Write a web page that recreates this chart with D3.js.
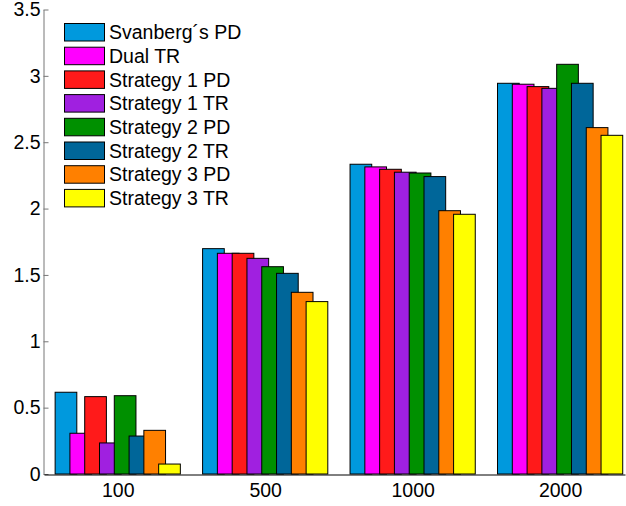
<!DOCTYPE html>
<html><head><meta charset="utf-8">
<script src="https://cdn.jsdelivr.net/npm/d3@7"></script>
<style>body{margin:0;background:#fff}svg{display:block}text{font-family:"Liberation Sans",Arial,sans-serif}</style>
</head><body><svg id="c" width="626" height="506"></svg>
<script>
const categories = ["100","500","1000","2000"];
const seriesNames = ["Svanberg´s PD","Dual TR","Strategy 1 PD","Strategy 1 TR","Strategy 2 PD","Strategy 2 TR","Strategy 3 PD","Strategy 3 TR"];
const seriesColors = ["#0099dd","#ff00ff","#ff1a1a","#a020e0","#009000","#006699","#ff8000","#ffff00"];
const svanbergPD = [0.616,1.698,2.334,2.944];
const dualTR     = [0.307,1.663,2.314,2.937];
const s1PD       = [0.583,1.663,2.296,2.919];
const s1TR       = [0.234,1.625,2.274,2.906];
const s2PD       = [0.590,1.562,2.268,3.087];
const s2TR       = [0.286,1.512,2.241,2.944];
const s3PD       = [0.329,1.369,1.984,2.610];
const s3TR       = [0.075,1.299,1.957,2.552];
const yTicks = [0,0.5,1,1.5,2,2.5,3,3.5];

const series = [svanbergPD,dualTR,s1PD,s1TR,s2PD,s2TR,s3PD,s3TR];
const svg = d3.select("#c");
const x = d3.scaleLinear().domain([0.5,4.44]).range([44,625]);
const y = d3.scaleLinear().domain([0,3.5]).range([474,9.5]);
const pitch = 0.1003, bw = 0.147;
const fs = 19.5;

// bars
series.forEach((vals,i)=>{
  svg.append("g").selectAll("rect").data(vals).join("rect")
    .attr("x",(d,j)=>x(j+1+(i-3.5)*pitch-bw/2))
    .attr("width",x(1+bw)-x(1))
    .attr("y",d=>y(d))
    .attr("height",d=>y(0)-y(d))
    .attr("fill",seriesColors[i])
    .attr("stroke","#000").attr("stroke-width",1);
});

// y axis
const ya = svg.append("g").attr("transform","translate(43.5,0)")
  .call(d3.axisLeft(y).tickValues(yTicks).tickFormat(d=>String(d)).tickSizeInner(-5).tickSizeOuter(0).tickPadding(3));
ya.select(".domain").attr("stroke","#777");
ya.selectAll(".tick line").attr("stroke","#777");
ya.selectAll("text").attr("font-size",fs).attr("fill","#000").attr("font-family","Liberation Sans, Arial, sans-serif");

// x axis
const xa = svg.append("g").attr("transform","translate(0,474.5)")
  .call(d3.axisBottom(x).tickValues([1,2,3,4]).tickFormat((d,i)=>categories[i]).tickSizeInner(0).tickSizeOuter(0).tickPadding(9));
xa.select(".domain").attr("stroke","#000");
xa.selectAll("text").attr("font-size",fs).attr("fill","#000").attr("font-family","Liberation Sans, Arial, sans-serif");

// legend
const lg = svg.append("g");
seriesNames.forEach((n,i)=>{
  const top = 23.5 + i*23.7;
  lg.append("rect").attr("x",64.5).attr("y",top).attr("width",40).attr("height",17.5)
    .attr("fill",seriesColors[i]).attr("stroke","#000").attr("stroke-width",1);
  lg.append("text").attr("x",109).attr("y",top+8.75+7).attr("font-size",fs).attr("fill","#000").text(n);
});
</script></body></html>
